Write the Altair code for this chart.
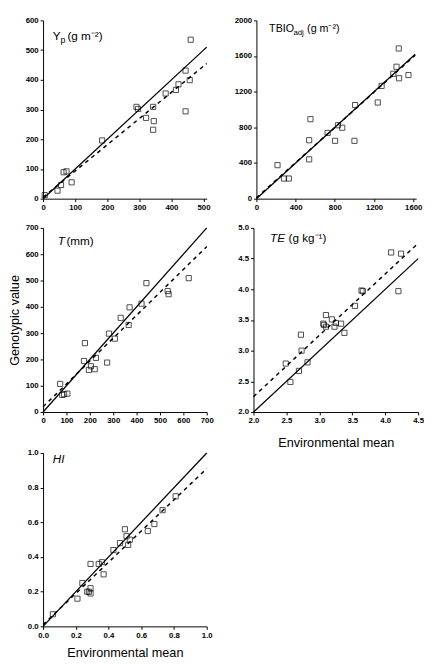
import altair as alt
import pandas as pd

FONT = "Liberation Sans"

# ---------- Panel 1: Yp ----------
yp_x = [5, 45, 56, 64, 73, 89, 184, 291, 296, 321, 343, 345, 343, 382, 414, 422, 444, 444, 457, 460]
yp_y = [12, 27, 46, 89, 92, 55, 196, 309, 302, 272, 309, 261, 232, 354, 366, 385, 431, 294, 399, 535]
yp_line_x = [0, 510]
yp_solid = [0, 510]
yp_dash = [5, 455]

# ---------- Panel 2: TBIOadj ----------
tb_x = [215, 281, 330, 538, 538, 551, 726, 802, 832, 875, 1007, 1000, 1238, 1277, 1396, 1429, 1452, 1455, 1551]
tb_y = [376, 226, 226, 441, 656, 892, 738, 649, 824, 796, 1050, 649, 1079, 1265, 1401, 1480, 1685, 1351, 1387]
tb_line_x = [0, 1620]
tb_solid = [0, 1620]
tb_dash = [10, 1610]

# ---------- Panel 3: T ----------
t_x = [73, 82, 90, 104, 175, 179, 196, 205, 221, 226, 274, 282, 307, 332, 366, 370, 421, 442, 533, 537, 623]
t_y = [107, 65, 68, 70, 194, 262, 160, 174, 163, 206, 188, 298, 279, 358, 331, 398, 412, 490, 460, 448, 509]
t_line_x = [0, 700]
t_solid = [0, 700]
t_dash = [20, 629]

# ---------- Panel 4: TE ----------
te_x = [2.49, 2.56, 2.69, 2.72, 2.73, 2.82, 3.06, 3.07, 3.10, 3.10, 3.19, 3.23, 3.25, 3.33, 3.38, 3.54, 3.64, 3.66, 4.09, 4.24, 4.20]
te_y = [2.79, 2.49, 2.67, 3.26, 3.00, 2.81, 3.44, 3.42, 3.58, 3.39, 3.51, 3.39, 3.45, 3.44, 3.29, 3.73, 3.98, 3.97, 4.60, 4.58, 3.97]
te_line_x = [2.0, 4.5]
te_solid = [2.0, 4.5]
te_dash = [2.25, 4.75]

# ---------- Panel 5: HI ----------
hi_x = [0.06, 0.21, 0.24, 0.27, 0.28, 0.29, 0.29, 0.29, 0.34, 0.36, 0.37, 0.43, 0.47, 0.50, 0.51, 0.52, 0.53, 0.64, 0.68, 0.73, 0.81]
hi_y = [0.07, 0.16, 0.25, 0.20, 0.20, 0.19, 0.22, 0.36, 0.36, 0.37, 0.30, 0.44, 0.48, 0.56, 0.52, 0.47, 0.50, 0.55, 0.59, 0.67, 0.75]
hi_line_x = [0.0, 1.0]
hi_solid = [0.0, 1.0]
hi_dash = [0.01, 0.91]

Y_TITLE = "Genotypic value"
X_TITLE = "Environmental mean"


def label_layers(segs):
    layers = []
    for text, px, py, size, style in segs:
        layers.append(
            alt.Chart(pd.DataFrame({"t": [text]}))
            .mark_text(align="left", baseline="middle", font=FONT, fontSize=size,
                       fontStyle=style, color="black")
            .encode(x=alt.value(px), y=alt.value(py), text="t:N")
        )
    return layers


def panel(xs, ys, lx, ls, ld, xdom, ydom, xvals, yvals, fmt, w, h, segs,
          ytitle_opacity=None, xtitle_pad=None):
    pts = pd.DataFrame({"x": xs, "y": ys})
    lines = pd.DataFrame({"x": lx, "solid": ls, "dash": ld})
    common = dict(format=fmt, labelFont=FONT, labelFontSize=8,
                  labelFontWeight="bold", labelColor="black", domainColor="black",
                  tickColor="black", tickSize=3, grid=False, labelFlush=False,
                  labelOverlap=False, labelPadding=2)
    xkw = dict(values=xvals, **common)
    if xtitle_pad is not None:
        xkw.update(title=X_TITLE, titleFont=FONT, titleFontSize=13,
                   titleFontWeight="normal", titleColor="black", titlePadding=xtitle_pad)
    else:
        xkw.update(title="")
    ykw = dict(values=yvals, **common)
    if ytitle_opacity is not None:
        ykw.update(title=Y_TITLE, titleFont=FONT, titleFontSize=13,
                   titleFontWeight="normal", titleColor="black", titlePadding=4,
                   titleOpacity=ytitle_opacity)
    else:
        ykw.update(title="")
    xs_ = alt.Scale(domain=xdom, nice=False, zero=False)
    ys_ = alt.Scale(domain=ydom, nice=False, zero=False)
    xax = alt.Axis(**xkw)
    yax = alt.Axis(**ykw)

    p = alt.Chart(pts).mark_point(shape="square", filled=False, size=28,
                                  strokeWidth=1, color="black").encode(
        x=alt.X("x:Q", scale=xs_, axis=xax),
        y=alt.Y("y:Q", scale=ys_, axis=yax),
    )
    solid = alt.Chart(lines).mark_line(color="black", strokeWidth=1.3).encode(
        x=alt.X("x:Q", scale=xs_, axis=xax), y=alt.Y("solid:Q", scale=ys_, axis=yax))
    dash = alt.Chart(lines).mark_line(color="black", strokeWidth=1.5,
                                      strokeDash=[4, 4]).encode(
        x=alt.X("x:Q", scale=xs_, axis=xax), y=alt.Y("dash:Q", scale=ys_, axis=yax))
    return alt.layer(p, solid, dash, *label_layers(segs)).properties(width=w, height=h)


p1 = panel(yp_x, yp_y, yp_line_x, yp_solid, yp_dash, [0, 510], [0, 600],
           [0, 100, 200, 300, 400, 500], [0, 100, 200, 300, 400, 500, 600], "d",
           168, 183,
           [("Y", 10, 16, 12, "normal"), ("p", 18, 20, 9, "normal"),
            ("(g m⁻²)", 25, 16, 12, "normal")],
           ytitle_opacity=0)
p2 = panel(tb_x, tb_y, tb_line_x, tb_solid, tb_dash, [0, 1630], [0, 2000],
           [0, 400, 800, 1200, 1600], [0, 400, 800, 1200, 1600, 2000], "d",
           164, 183,
           [("TBIO", 13, 9, 11, "normal"), ("adj", 38, 13, 8, "normal"),
            ("(g m⁻²)", 52, 9, 11, "normal")])
p3 = panel(t_x, t_y, t_line_x, t_solid, t_dash, [0, 700], [0, 700],
           [0, 100, 200, 300, 400, 500, 600, 700], [0, 100, 200, 300, 400, 500, 600, 700], "d",
           168, 189,
           [("T", 15, 14, 12, "italic"), ("(mm)", 24, 14, 12, "normal")],
           ytitle_opacity=1)
p4 = panel(te_x, te_y, te_line_x, te_solid, te_dash, [2.0, 4.5], [2.0, 5.0],
           [2.0, 2.5, 3.0, 3.5, 4.0, 4.5], [2.0, 2.5, 3.0, 3.5, 4.0, 4.5, 5.0], ".1f",
           169, 189,
           [("TE", 17, 10, 12, "italic"), ("(g kg⁻¹)", 36, 10, 12, "normal")],
           xtitle_pad=12)
p5 = panel(hi_x, hi_y, hi_line_x, hi_solid, hi_dash, [0.0, 1.0], [0.0, 1.0],
           [0.0, 0.2, 0.4, 0.6, 0.8, 1.0], [0.0, 0.2, 0.4, 0.6, 0.8, 1.0], ".1f",
           168, 178,
           [("HI", 10, 6, 12, "italic")],
           ytitle_opacity=0, xtitle_pad=8)

row1 = alt.hconcat(p1, p2, spacing=24)
row2 = alt.hconcat(p3, p4, spacing=24)
upper = alt.vconcat(row1, row2, spacing=13)
chart = alt.vconcat(upper, p5, spacing=0).properties(
    padding={"top": 0, "left": 0, "right": 0, "bottom": 0}
).configure_view(stroke=None)

chart.save("out.html", embed_options={"renderer": "svg", "actions": False})
